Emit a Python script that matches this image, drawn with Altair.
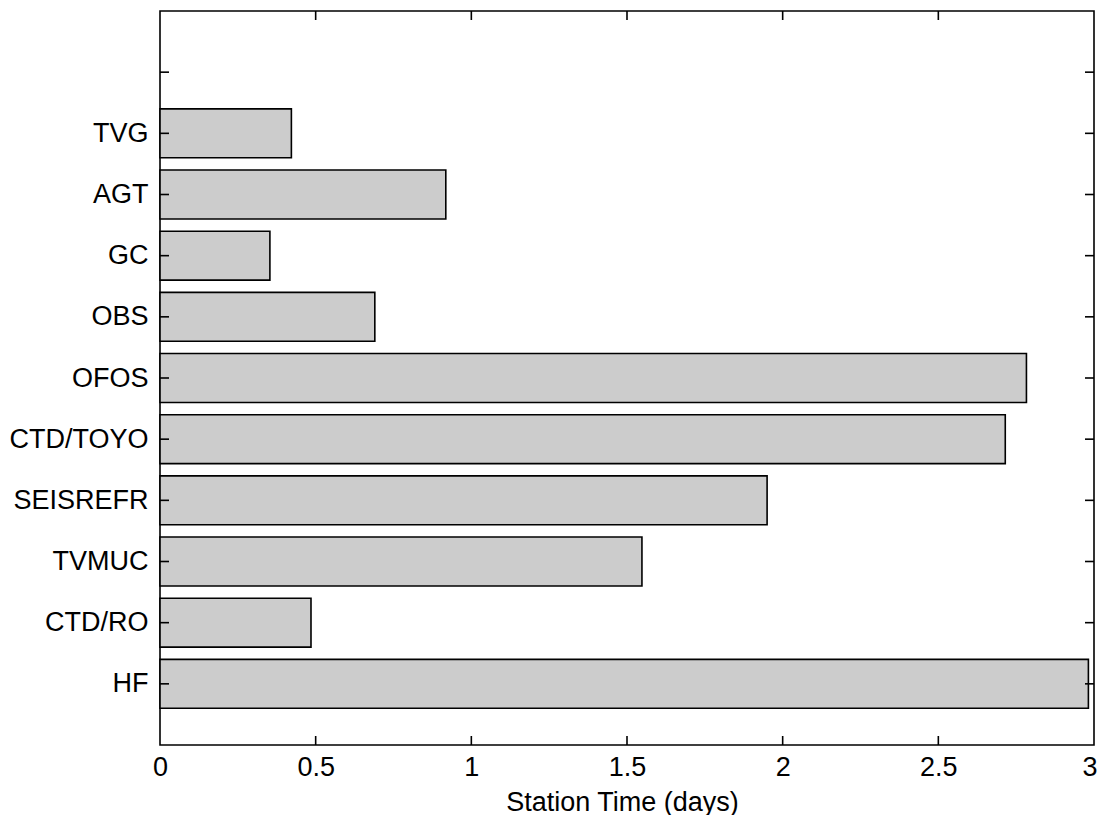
import json
import altair as alt
import pandas as pd

# ---- data ----
categories = ["HF", "CTD/RO", "TVMUC", "SEISREFR", "CTD/TOYO",
              "OFOS", "OBS", "GC", "AGT", "TVG"]
positions = [1, 2, 3, 4, 5, 6, 7, 8, 9, 10]
station_days = [2.982, 0.485, 1.548, 1.950, 2.715, 2.783, 0.690, 0.353, 0.918, 0.422]

x_ticks = [0, 0.5, 1, 1.5, 2, 2.5, 3]
x_inner_ticks = [0.5, 1, 1.5, 2, 2.5]
y_inner_ticks = [1, 2, 3, 4, 5, 6, 7, 8, 9, 10, 11]

W, H = 934, 734
FONT = "Liberation Sans"
FS = 27

bars_df = pd.DataFrame({"cat": categories, "pos": positions, "days": station_days})
xt_df = pd.DataFrame({"t": x_inner_ticks})
yt_df = pd.DataFrame({"p": y_inner_ticks})

xscale = alt.Scale(domain=[0, 3], nice=False, zero=False)
yscale = alt.Scale(domain=[0, 12], nice=False, zero=False)

label_array = json.dumps([""] + categories)
y_label_expr = f"{label_array}[datum.value] || ''"

bars = alt.Chart(bars_df).transform_calculate(
    lo="datum.pos - 0.4", hi="datum.pos + 0.4", zero="0"
).mark_rect(fill="#cccccc", stroke="black", strokeWidth=1.6).encode(
    x=alt.X("zero:Q", scale=xscale,
            axis=alt.Axis(values=x_ticks, format="~g", tickSize=0, domain=False,
                          grid=False, labelFont=FONT, labelFontSize=FS,
                          labelPadding=9, labelColor="black", labelFlush=False,
                          labelBound=False,
                          labelAlign={"expr": "datum.value >= 3 ? 'right' : 'center'"},
                          labelOffset={"expr": "datum.value >= 3 ? 3 : 0"},
                          title="Station Time (days)", titleFont=FONT,
                          titleFontSize=27, titleFontWeight="normal",
                          titleColor="black", titlePadding=9, titleX=462)),
    x2="days:Q",
    y=alt.Y("lo:Q", scale=yscale,
            axis=alt.Axis(values=positions, labelExpr=y_label_expr, tickSize=0,
                          domain=False, grid=False, labelFont=FONT,
                          labelFontSize=FS, labelPadding=12, labelColor="black",
                          labelFlush=False, labelBound=False, title=None)),
    y2="hi:Q",
)

tick_style = dict(color="black", strokeWidth=1.6)

xt_bottom = alt.Chart(xt_df).mark_rule(**tick_style).encode(
    x=alt.X("t:Q", scale=xscale), y=alt.value(H), y2=alt.value(H - 9))
xt_top = alt.Chart(xt_df).mark_rule(**tick_style).encode(
    x=alt.X("t:Q", scale=xscale), y=alt.value(0), y2=alt.value(9))
yt_left = alt.Chart(yt_df).mark_rule(**tick_style).encode(
    y=alt.Y("p:Q", scale=yscale), x=alt.value(0), x2=alt.value(9))
yt_right = alt.Chart(yt_df).mark_rule(**tick_style).encode(
    y=alt.Y("p:Q", scale=yscale), x=alt.value(W - 9), x2=alt.value(W))

chart = alt.layer(bars, xt_bottom, xt_top, yt_left, yt_right).properties(
    width=W, height=H,
    autosize=alt.AutoSizeParams(type="none"),
    padding={"left": 152, "top": 3, "right": 3, "bottom": 70},
    background="white",
).configure_view(stroke="black", strokeWidth=1.6)

chart.save("out.html", embed_options={"renderer": "svg", "actions": False})
